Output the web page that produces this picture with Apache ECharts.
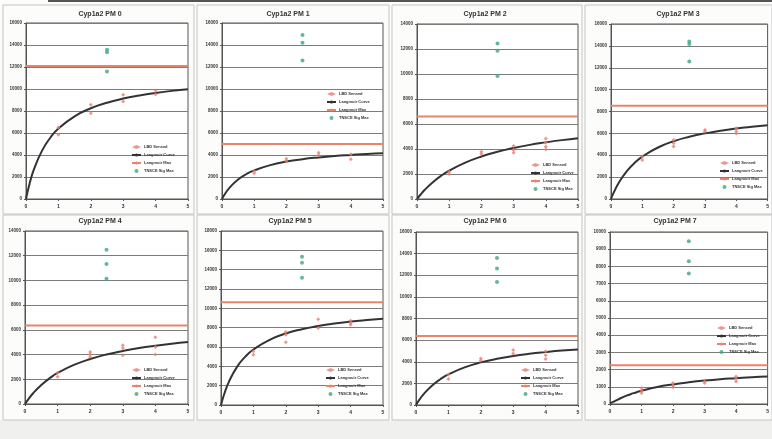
<!DOCTYPE html>
<html>
<head>
<meta charset="utf-8">
<script src="https://cdn.jsdelivr.net/npm/echarts@6/dist/echarts.min.js"></script>
<style>
html,body{margin:0;padding:0;background:#f4f4f2;}
#c{width:772px;height:439px;}
</style>
</head>
<body>
<div id="c"></div>
<script>
// ---- data ----
const titles = ['Cyp1a2 PM 0','Cyp1a2 PM 1','Cyp1a2 PM 2','Cyp1a2 PM 3','Cyp1a2 PM 4','Cyp1a2 PM 5','Cyp1a2 PM 6','Cyp1a2 PM 7'];
const seriesNames = ['LBD Sensed','Langmuir Curve','Langmuir Max','TNSCE Sig Max'];
const yMax  = [16000,16000,14000,16000,14000,18000,16000,10000];
const yStep = [2000,2000,2000,2000,2000,2000,2000,1000];
const xTicks = [0,1,2,3,4,5];

const curveX = [0,0.1,0.25,0.5,0.75,1,1.5,2,2.5,3,3.5,4,4.5,5];
const curve0 = [0,1270,2730,4420,5570,6400,7520,8250,8750,9130,9410,9640,9830,9980];
const curve1 = [0,500,1080,1770,2250,2600,3080,3400,3620,3780,3910,4010,4100,4160];
const curve2 = [0,320,760,1360,1860,2270,2910,3400,3780,4080,4330,4530,4710,4860];
const curve3 = [0,670,1490,2530,3290,3880,4710,5280,5690,6000,6250,6450,6610,6750];
const curve4 = [0,380,870,1540,2070,2510,3160,3640,4010,4290,4530,4720,4880,5010];
const curve5 = [0,1140,2450,3970,5000,5740,6740,7390,7840,8170,8430,8630,8790,8930];
const curve6 = [0,470,1050,1810,2380,2830,3480,3940,4270,4530,4730,4890,5030,5140];
const curve7 = [50,120,260,470,630,770,990,1140,1260,1360,1440,1500,1560,1600];

const langMax = [12100,5000,6600,8520,6350,10630,6370,2260];

const measured0 = [[1,6500],[1,5830],[2,8560],[2,7800],[3,9470],[3,8860],[4,9860],[4,9530]];
const measured1 = [[1,2550],[1,2330],[2,3670],[2,3450],[3,4210],[3,3970],[4,4060],[4,3610]];
const measured2 = [[1,2190],[1,2000],[2,3790],[2,3600],[3,4240],[3,3920],[3,3710],[4,4850],[4,4510],[4,4190],[4,3970]];
const measured3 = [[1,3880],[1,3570],[2,5400],[2,5100],[2,4800],[3,6300],[3,6170],[4,6470],[4,6170],[4,6000]];
const measured4 = [[1,2530],[1,2210],[2,4210],[2,4000],[2,3810],[3,4750],[3,4530],[3,3950],[4,5410],[4,4610],[4,4000]];
const measured5 = [[1,5560],[1,5210],[2,7550],[2,7270],[2,6480],[3,8880],[3,7960],[4,8710],[4,8470],[4,8300]];
const measured6 = [[1,2830],[1,2400],[2,4310],[2,4120],[3,5080],[3,4770],[4,4980],[4,4610],[4,4250]];
const measured7 = [[1,930],[1,770],[1,640],[2,1220],[2,1080],[2,970],[3,1310],[3,1220],[4,1600],[4,1470],[4,1310]];

const sigMax0 = [[2.5,13570],[2.5,13350],[2.5,11590]];
const sigMax1 = [[2.5,14900],[2.5,14200],[2.5,12600]];
const sigMax2 = [[2.5,12450],[2.5,11870],[2.5,9840]];
const sigMax3 = [[2.5,14400],[2.5,14170],[2.5,12580]];
const sigMax4 = [[2.5,12480],[2.5,11330],[2.5,10130]];
const sigMax5 = [[2.5,15330],[2.5,14720],[2.5,13170]];
const sigMax6 = [[2.5,13600],[2.5,12620],[2.5,11380]];
const sigMax7 = [[2.5,9460],[2.5,8300],[2.5,7590]];

const curves = [curve0,curve1,curve2,curve3,curve4,curve5,curve6,curve7];
const measured = [measured0,measured1,measured2,measured3,measured4,measured5,measured6,measured7];
const sigMax = [sigMax0,sigMax1,sigMax2,sigMax3,sigMax4,sigMax5,sigMax6,sigMax7];

// ---- layout (pixels) ----
const gridBoxes = [
  [26,23,162,176],[222,23,161,176],[417,24,161,175],[611,24,159,175],
  [25,231,163,173],[221,231,162,174],[416,232,162,173],[610,232,160,172]
];
const titlePos = [[100,14],[288,14],[485,14],[678,14],[100,221],[290,221],[485,221],[675,221]];
const legendPos = [[131,145],[326,92],[530,163],[719,161],[131,368],[325,368],[520,368],[716,326]];
const frames = [[3,5,191,209],[197,5,192,209],[392,5,190,209],[585,5,187,209],
                [3,215,191,205],[197,215,192,205],[392,215,190,205],[585,215,187,205]];

const FONT = 'Liberation Sans, Arial, sans-serif';
const grid=[], xAxis=[], yAxis=[], series=[], legend=[], graphic=[];

graphic.push({type:'rect', shape:{x:0,y:420,width:772,height:19}, style:{fill:'#f0f0ee'}, silent:true});
graphic.push({type:'line', shape:{x1:48,y1:1,x2:772,y2:1}, style:{stroke:'#555',lineWidth:2}, silent:true});

for (let i=0;i<8;i++){
  const b = gridBoxes[i];
  grid.push({left:b[0], top:b[1], width:b[2], height:b[3], show:true, backgroundColor:'#ffffff', borderColor:'#555', borderWidth:1});
  xAxis.push({gridIndex:i, type:'value', min:xTicks[0], max:xTicks[xTicks.length-1], interval:1,
    axisLine:{show:true,onZero:false,lineStyle:{color:'#555'}}, axisTick:{show:true,length:2,lineStyle:{color:'#555'}},
    axisLabel:{fontSize:5, color:'#333', fontWeight:'bold', margin:5, fontFamily:FONT},
    splitLine:{show:false}});
  yAxis.push({gridIndex:i, type:'value', min:0, max:yMax[i], interval:yStep[i],
    axisLine:{show:true,lineStyle:{color:'#555'}}, axisTick:{show:true,length:2,lineStyle:{color:'#555'}},
    axisLabel:{fontSize:4.5, color:'#333', fontWeight:'bold', margin:4, fontFamily:FONT, formatter:(v)=>String(v)},
    splitLine:{show:true,lineStyle:{color:'#7c7c7c',width:1.2}}});
  series.push({name:seriesNames[0], type:'scatter', xAxisIndex:i, yAxisIndex:i, data:measured[i],
    symbol:'diamond', symbolSize:4, itemStyle:{color:'#e5806f'}, z:4});
  series.push({name:seriesNames[1], type:'line', xAxisIndex:i, yAxisIndex:i,
    data:curveX.map((x,k)=>[x,curves[i][k]]), smooth:true, showSymbol:false, symbol:'none',
    lineStyle:{color:'#333',width:2}, itemStyle:{color:'#333'}, z:3});
  series.push({name:seriesNames[2], type:'line', xAxisIndex:i, yAxisIndex:i,
    data:[[0,langMax[i]],[5,langMax[i]]], showSymbol:false, symbol:'none',
    lineStyle:{color:'#e8846c',width:2}, itemStyle:{color:'#e8846c'}, z:3});
  series.push({name:seriesNames[3], type:'scatter', xAxisIndex:i, yAxisIndex:i, data:sigMax[i],
    symbol:'circle', symbolSize:4, itemStyle:{color:'#3fa57e'}, z:4});
  legend.push({data:[{name:seriesNames[0],icon:'diamond'},{name:seriesNames[1]},{name:seriesNames[2]},{name:seriesNames[3],icon:'circle'}],
    orient:'vertical', left:legendPos[i][0], top:legendPos[i][1],
    itemWidth:9, itemHeight:4, itemGap:4, padding:0, selectedMode:false,
    textStyle:{fontSize:4, fontWeight:'bold', color:'#333', fontFamily:FONT, padding:[0,0,0,-2]}});
  const f = frames[i];
  graphic.push({type:'rect', shape:{x:f[0],y:f[1],width:f[2],height:f[3]}, style:{fill:'none',stroke:'#c4c4c4',lineWidth:1}, silent:true});
  graphic.push({type:'text', x:titlePos[i][0], y:titlePos[i][1],
    style:{text:titles[i], font:'bold 7px '+FONT, fill:'#333', textAlign:'center', align:'center', textVerticalAlign:'middle', verticalAlign:'middle'}, silent:true});
}

const chart = echarts.init(document.getElementById('c'), null, {renderer:'canvas'});
chart.setOption({
  backgroundColor:'#fcfcfb',
  animation:false,
  grid, xAxis, yAxis, series, legend, graphic
});
</script>
</body>
</html>
